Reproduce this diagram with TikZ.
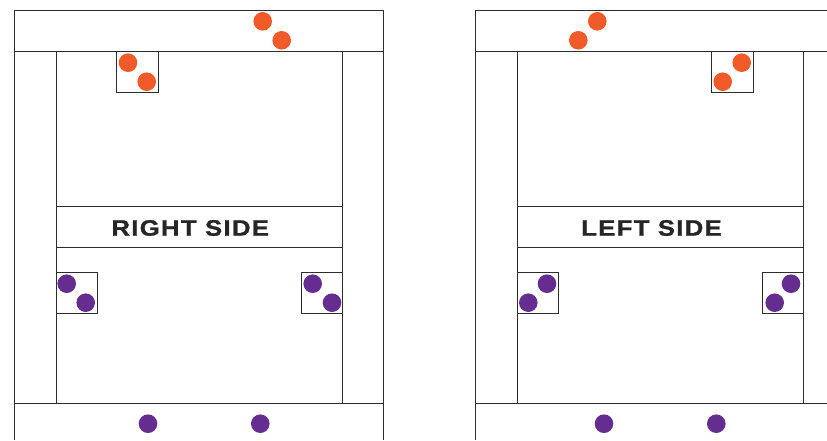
\documentclass[tikz,border=0pt]{standalone}
\usepackage{fontspec}
\newfontfamily\sidefont{Liberation Sans Bold}[FakeStretch=1.15,LetterSpace=6,FakeBold=1.2]
\definecolor{CourtOrange}{RGB}{241,90,41}
\definecolor{CourtPurple}{RGB}{102,45,145}
\definecolor{WallGray}{RGB}{45,45,45}
\begin{document}
\begin{tikzpicture}[x=1pt,y=-1pt,wall/.style={WallGray,line width=.9pt},
  odot/.style={fill=CourtOrange},pdot/.style={fill=CourtPurple},
  sidelabel/.style={font=\sidefont\fontsize{22.3}{27}\selectfont,text=black!85,inner sep=0pt}]
\useasboundingbox (0,0) rectangle (827,440);\clip (0,0) rectangle (827,440);
% both courts share one frame
\foreach \dx in {0,461.3}{
  \draw[wall] (14.5+\dx,440) |- (383.5+\dx,10.5) -- (383.5+\dx,440);
  \draw[wall] (14.5+\dx,51.5)--(383.5+\dx,51.5);\draw[wall] (14.5+\dx,403.7)--(383.5+\dx,403.7);
  \draw[wall] (56+\dx,51.5)--(56+\dx,403.7);\draw[wall] (342.3+\dx,51.5)--(342.3+\dx,403.7);
  \draw[wall] (56+\dx,206.7) rectangle (342.3+\dx,247.7);
}
\node[sidelabel] (right) at (190.2,228){RIGHT SIDE};
\node[sidelabel] (left) at (651.5,228){LEFT SIDE};
% right side
\draw[wall] (116.7,51.5) rectangle (158.3,92.7);
\draw[wall] (56,272.3) rectangle (97,313.7);\draw[wall] (301,272.3) rectangle (342.3,313.7);
\fill[odot] (262.7,21.3) circle (9.3) (281.7,40.3) circle (9.3) (128,62.7) circle (9.3) (146.7,81.7) circle (9.3);
\fill[pdot] (66.7,283.7) circle (9.3) (85.7,302.7) circle (9.3) (312.7,283.7) circle (9.3) (332,302.7) circle (9.3);
\fill[pdot] (148,423.7) circle (9.3) (260.3,423.7) circle (9.3);
% left side
\draw[wall] (711.7,51.5) rectangle (753.3,92.7);
\draw[wall] (517.3,272.3) rectangle (558.3,313.7);\draw[wall] (762.3,272.3) rectangle (803.7,313.7);
\fill[odot] (597.3,21.3) circle (9.3) (578.3,40.3) circle (9.3) (741.7,62.7) circle (9.3) (722.7,81.7) circle (9.3);
\fill[pdot] (547,283.7) circle (9.3) (528.3,302.7) circle (9.3) (791,283.7) circle (9.3) (774.7,302.7) circle (9.3);
\fill[pdot] (604,423.7) circle (9.3) (716.3,423.7) circle (9.3);
\end{tikzpicture}
\end{document}
